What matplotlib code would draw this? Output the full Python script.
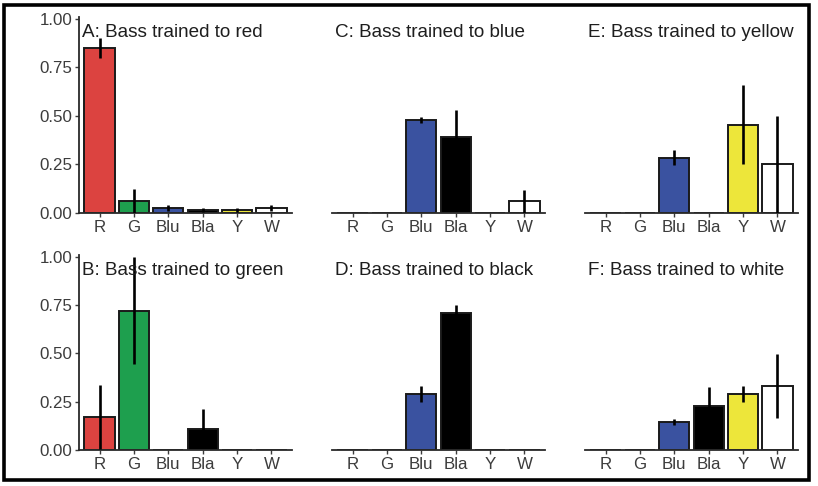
import numpy as np
import matplotlib.pyplot as plt
from matplotlib.patches import Rectangle

plt.rcParams['font.family'] = ['Liberation Sans', 'DejaVu Sans']

# Data
categories = ['R', 'G', 'Blu', 'Bla', 'Y', 'W']
bar_colors = ['#dc4340', '#1e9f4e', '#3a52a0', '#000000', '#ede63a', '#ffffff']

titles = ['A: Bass trained to red', 'C: Bass trained to blue', 'E: Bass trained to yellow',
          'B: Bass trained to green', 'D: Bass trained to black', 'F: Bass trained to white']

red_mean = [0.85, 0.062, 0.024, 0.015, 0.015, 0.025]
red_err = [0.05, 0.06, 0.015, 0.012, 0.012, 0.015]
blue_mean = [0, 0, 0.48, 0.39, 0, 0.06]
blue_err = [0, 0, 0.015, 0.14, 0, 0.06]
yellow_mean = [0, 0, 0.285, 0, 0.455, 0.25]
yellow_err = [0, 0, 0.04, 0, 0.205, 0.25]
green_mean = [0.172, 0.722, 0, 0.11, 0, 0]
green_err = [0.167, 0.278, 0, 0.10, 0, 0]
black_mean = [0, 0, 0.289, 0.71, 0, 0]
black_err = [0, 0, 0.04, 0.04, 0, 0]
white_mean = [0, 0, 0.143, 0.227, 0.289, 0.331]
white_err = [0, 0, 0.015, 0.10, 0.04, 0.165]

means = [red_mean, blue_mean, yellow_mean, green_mean, black_mean, white_mean]
errs = [red_err, blue_err, yellow_err, green_err, black_err, white_err]

W, H = 818, 486
fig = plt.figure(figsize=(W / 100, H / 100), dpi=100)

lefts = [79, 332, 585]
rows = [(17, 213), (255, 450)]  # (top px, bottom px)
axw = 213

x = np.arange(len(categories))
grey = '#3c3c3c'

for i in range(6):
    r, c = divmod(i, 3)
    top, bot = rows[r]
    ax = fig.add_axes([lefts[c] / W, 1 - bot / H, axw / W, (bot - top) / H])
    m = np.array(means[i])
    e = np.array(errs[i])
    ax.bar(x, m, width=0.88, color=bar_colors, edgecolor='#1a1a1a', linewidth=1.4, zorder=2)
    show = e > 0
    ax.vlines(x[show], np.clip(m[show] - e[show], 0, None), m[show] + e[show],
              color='black', linewidth=1.9, zorder=3)
    ax.set_xlim(-0.6, 5.6)
    ax.set_ylim(0, 1.01)
    ax.set_xticks(x)
    ax.set_xticklabels(categories)
    ax.tick_params(axis='x', length=3, width=1, pad=2, labelsize=12.2, labelcolor=grey, color=grey)
    for s in ['top', 'right']:
        ax.spines[s].set_visible(False)
    ax.spines['bottom'].set_linewidth(1.3)
    ax.spines['bottom'].set_color('#2a2a2a')
    if c == 0:
        ax.set_yticks([0, 0.25, 0.5, 0.75, 1.0])
        ax.set_yticklabels(['0.00', '0.25', '0.50', '0.75', '1.00'])
        ax.tick_params(axis='y', length=3, width=1, pad=2, labelsize=12.2, labelcolor=grey, color=grey)
        ax.spines['left'].set_linewidth(1.3)
        ax.spines['left'].set_color('#2a2a2a')
    else:
        ax.spines['left'].set_visible(False)
        ax.set_yticks([])
    ax.text(0.015, 0.965, titles[i], transform=ax.transAxes, ha='left', va='top',
            fontsize=13.6, color='#1e1e1e', zorder=4)
    ax.set_facecolor('none')

# outer frame
fig.patches.append(Rectangle((3.5 / W, 1 - 479.5 / H), (809 - 3.5) / W, (479.5 - 5.5) / H,
                             transform=fig.transFigure, fill=False, edgecolor='black',
                             linewidth=2.6, zorder=10))

fig.savefig('out.png', dpi=100)
plt.close(fig)
